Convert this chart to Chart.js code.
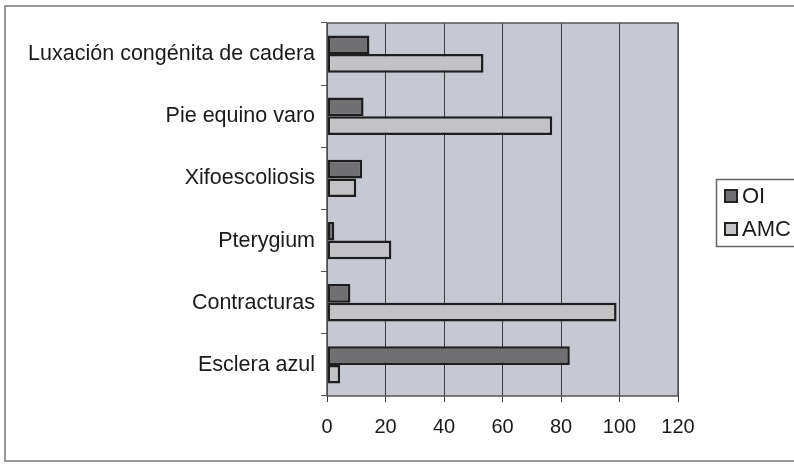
<!DOCTYPE html>
<html>
<head>
<meta charset="utf-8">
<script src="https://cdn.jsdelivr.net/npm/chart.js@4/dist/chart.umd.min.js"></script>
<style>
  body { margin: 0; background: #fff; }
  #wrap { width: 794px; height: 464px; }
</style>
</head>
<body>
<div id="wrap"><canvas id="grafica" width="794" height="464"></canvas></div>
<script>
// Datos (de arriba hacia abajo)
const categorias = ["Luxación congénita de cadera", "Pie equino varo", "Xifoescoliosis",
    "Pterygium", "Contracturas", "Esclera azul"];
const valoresOI = [14.5, 12.5, 12, 2.5, 8, 83];
const valoresAMC = [53.5, 77, 10, 22, 99, 4.5];
const ticksX = [0, 20, 40, 60, 80, 100, 120];

const fuente = "'Liberation Sans', Arial, sans-serif";
Chart.defaults.font.family = fuente;
Chart.defaults.color = "#1a1a1a";

// fondo del area, borde, leyenda y marco
const decorado = {
    id: "decorado",
    beforeDraw(chart) {
        const c = chart.ctx, a = chart.chartArea;
        c.save();
        c.fillStyle = "#c6c8d2";
        c.fillRect(a.left, a.top, a.right - a.left, a.bottom - a.top);
        c.restore();
    },
    afterDraw(chart) {
        const c = chart.ctx, a = chart.chartArea;
        c.save();
        c.strokeStyle = "#555";
        c.lineWidth = 1.5;
        c.strokeRect(a.left, a.top, a.right - a.left, a.bottom - a.top);

        // leyenda
        c.strokeStyle = "#666";
        c.lineWidth = 1.5;
        c.strokeRect(716.5, 179.5, 90, 67);
        const items = chart.data.datasets;
        c.font = "22px " + fuente;
        c.textBaseline = "middle";
        items.forEach(function (ds, i) {
            let y = 196 + i * 33;
            c.fillStyle = ds.backgroundColor;
            c.fillRect(725, y - 6, 12, 12);
            c.strokeStyle = "#222";
            c.lineWidth = 2;
            c.strokeRect(725, y - 6, 12, 12);
            c.fillStyle = "#1a1a1a";
            c.fillText(ds.label, 742, y + 1);
        });

        // marco exterior
        c.strokeStyle = "#999";
        c.lineWidth = 2;
        c.strokeRect(5, 6, 800, 455);
        c.restore();
    }
};

let ctx = document.getElementById("grafica");
let myChart = new Chart(ctx, {
    type: "bar",
    data: {
        labels: categorias,
        datasets: [{
            label: "OI",
            backgroundColor: "#707073",
            borderColor: "#1e1e1e",
            borderWidth: 2.5,
            borderSkipped: false,
            data: valoresOI
        }, {
            label: "AMC",
            backgroundColor: "#c3c3c6",
            borderColor: "#1e1e1e",
            borderWidth: 2.5,
            borderSkipped: false,
            data: valoresAMC
        }]
    },
    options: {
        indexAxis: "y",
        responsive: false,
        animation: false,
        layout: { padding: { top: 23, right: 116, left: 0, bottom: 0 } },
        datasets: { bar: { categoryPercentage: 0.6, barPercentage: 1.0 } },
        plugins: { legend: { display: false }, tooltip: { enabled: false } },
        scales: {
            x: {
                min: 0,
                max: 120,
                afterBuildTicks(scale) {
                    scale.ticks = ticksX.map(v => ({ value: v }));
                },
                afterFit(scale) { scale.height = 68; },
                grid: { color: "#3a3a3a", lineWidth: 1, tickLength: 6 },
                border: { display: false },
                ticks: { font: { size: 20 }, padding: 13, color: "#1a1a1a" }
            },
            y: {
                afterFit(scale) { scale.width = 327; },
                grid: { offset: true, drawOnChartArea: false, color: "#555", tickLength: 6 },
                border: { display: false },
                ticks: { font: { size: 21.5 }, padding: 6, color: "#1a1a1a" }
            }
        }
    },
    plugins: [decorado]
});
</script>
</body>
</html>
